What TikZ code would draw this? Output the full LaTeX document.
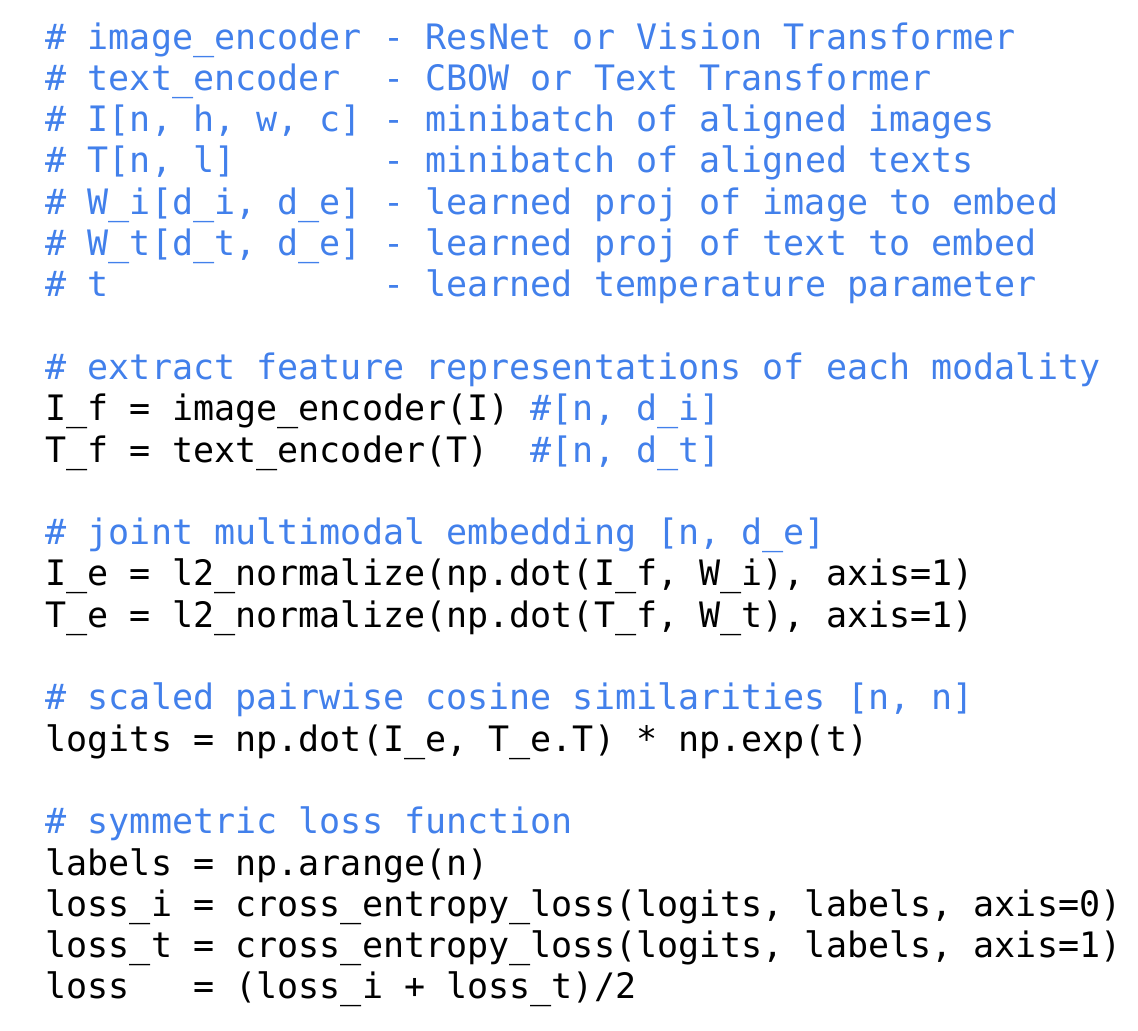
\documentclass[tikz,border=0pt]{standalone}
\usepackage{fontspec}
\usepackage{tikz}
\usetikzlibrary{positioning}
\newfontfamily\codefont{DejaVu Sans Mono}
\definecolor{cmtblue}{RGB}{66,128,235}
\frenchspacing

\begin{document}
\begin{tikzpicture}[y=-20.65pt,
    line/.style={anchor=base west, inner sep=0pt, font=\codefont\fontsize{17.52pt}{20pt}\selectfont},
    code/.style={line, text=black},
    cmt/.style={line, text=cmtblue}]
      \useasboundingbox (0,3.85pt) rectangle (569pt,-511.15pt);

      % header comments
      \node[cmt] (encimg) at (22.6pt,1) {\# image\_encoder - ResNet or Vision Transformer};
      \node[cmt] (enctxt) at (22.6pt,2) {\# text\_encoder~ - CBOW or Text Transformer};
      \node[cmt] (minii) at (22.6pt,3) {\# I[n, h, w, c] - minibatch of aligned images};
      \node[cmt] (minit) at (22.6pt,4) {\# T[n, l]~~~~~~ - minibatch of aligned texts};
      \node[cmt] (projimg) at (22.6pt,5) {\# W\_i[d\_i, d\_e] - learned proj of image to embed};
      \node[cmt] (projtxt) at (22.6pt,6) {\# W\_t[d\_t, d\_e] - learned proj of text to embed};
      \node[cmt] (temp) at (22.6pt,7) {\# t~~~~~~~~~~~~ - learned temperature parameter};

      \node[cmt] (cmtfeat) at (22.6pt,9) {\# extract feature representations of each modality};
      \node[code] (featimg) at (22.6pt,10) {I\_f = image\_encoder(I) \textcolor{cmtblue}{\#[n, d\_i]}};
      \node[code] (feattxt) at (22.6pt,11) {T\_f = text\_encoder(T)~ \textcolor{cmtblue}{\#[n, d\_t]}};

      \node[cmt] (cmtjoint) at (22.6pt,13) {\# joint multimodal embedding [n, d\_e]};
      \node[code] (embimg) at (22.6pt,14) {I\_e = l2\_normalize(np.dot(I\_f, W\_i), axis=1)};
      \node[code] (embtxt) at (22.6pt,15) {T\_e = l2\_normalize(np.dot(T\_f, W\_t), axis=1)};

      \node[cmt] (cmtsim) at (22.6pt,17) {\# scaled pairwise cosine similarities [n, n]};
      \node[code] (logits) at (22.6pt,18) {logits = np.dot(I\_e, T\_e.T) * np.exp(t)};

      \node[cmt] (cmtloss) at (22.6pt,20) {\# symmetric loss function};
      \node[code] (labels) at (22.6pt,21) {labels = np.arange(n)};
      \node[code] (lossi) at (22.6pt,22) {loss\_i = cross\_entropy\_loss(logits, labels, axis=0)};
      \node[code] (losst) at (22.6pt,23) {loss\_t = cross\_entropy\_loss(logits, labels, axis=1)};
      \node[code] (loss) at (22.6pt,24) {loss~~ = (loss\_i + loss\_t)/2};
\end{tikzpicture}
\end{document}
